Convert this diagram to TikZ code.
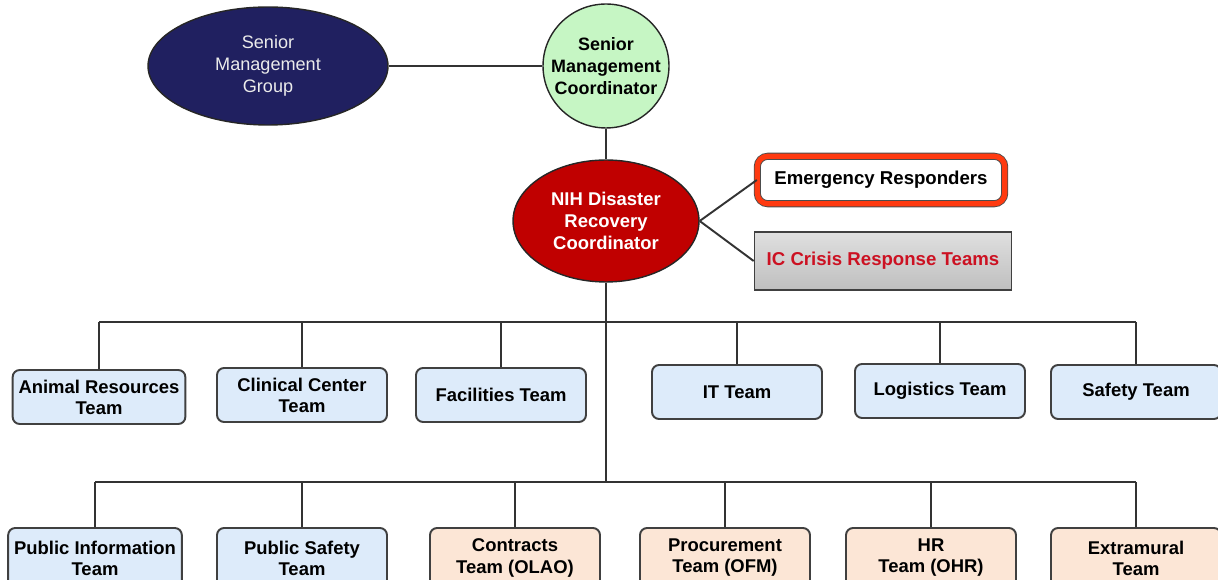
\documentclass[tikz,border=0pt]{standalone}
\usepackage{fontspec}
\setmainfont{Liberation Sans}
\usepackage{xcolor}
\usetikzlibrary{shapes, positioning}

\begin{document}
\begin{tikzpicture}[x=0.02cm, y=-0.02cm,
  line/.style={draw=black!80, line width=1.1pt},
  oval/.style={ellipse, draw=black!85, line width=0.8pt, align=center, inner sep=0pt,
    font=\fontsize{10.3}{12.5}\selectfont},
  team/.style={rectangle, rounded corners=4pt, draw=black!75, line width=1.1pt,
    fill=teamblue, minimum width=3.4cm, minimum height=1.08cm, align=center,
    font=\bfseries\fontsize{10.5}{12}\selectfont},
  office/.style={team, fill=teampeach, minimum height=1.2cm}]

% Define colors for each kind of unit
\definecolor{smgblue}{RGB}{32,32,96}
\definecolor{smcgreen}{RGB}{198,246,196}
\definecolor{nihred}{RGB}{192,0,0}
\definecolor{errim}{RGB}{255,58,16}
\definecolor{icred}{RGB}{204,17,34}
\definecolor{teamblue}{RGB}{221,235,250}
\definecolor{teampeach}{RGB}{252,230,214}

% Page frame
\useasboundingbox (0,0) rectangle (1218,580);

% Senior management
\node[oval, fill=smgblue, text=black!8, minimum width=4.8cm, minimum height=2.36cm]
  (smg) at (268,66) {Senior\\Management\\Group};
\node[oval, fill=smcgreen, font=\bfseries\fontsize{10.2}{12.5}\selectfont,
  inner xsep=-6.5pt, minimum width=2.52cm, minimum height=2.48cm]
  (smc) at (606,66) {Senior\\Management\\Coordinator};

% Disaster recovery coordinator
\node[oval, fill=nihred, text=white, font=\bfseries\fontsize{10.5}{12.5}\selectfont,
  minimum width=3.72cm, minimum height=2.44cm]
  (nih) at (606,221) {NIH Disaster\\Recovery\\Coordinator};

% Responders on the right
\node[rectangle, rounded corners=6pt, fill=white, draw=black!70, line width=0.5pt,
  double=errim, double distance=3pt, minimum width=4.95cm, minimum height=0.95cm,
  font=\bfseries\fontsize{10.6}{12}\selectfont]
  (er) at (881,180) {Emergency Responders};
\node[rectangle, draw=black!75, line width=1pt, top color=gray!25, middle color=gray!4,
  bottom color=gray!50, minimum width=5.14cm, minimum height=1.16cm, text=icred,
  font=\bfseries\fontsize{10.6}{12}\selectfont]
  (ic) at (883,261) {IC Crisis Response Teams};

% First row of teams
\node[team] (ar) at (99,397) {Animal Resources\\Team};
\node[team] (cc) at (302,395) {Clinical Center\\Team};
\node[team] (fac) at (501,395) {Facilities Team};
\node[team] (it) at (737,392) {IT Team};
\node[team] (log) at (940,391) {Logistics Team};
\node[team] (safety) at (1136,392) {Safety Team};

% Second row of teams
\node[team, minimum height=1.2cm] (pi) at (95,558) {Public Information\\Team};
\node[team, minimum height=1.2cm] (ps) at (302,558) {Public Safety\\Team};
\node[office] (con) at (515,558) {Contracts\\Team (OLAO)};
\node[office] (pro) at (725,558) {Procurement\\Team (OFM)};
\node[office] (hr) at (931,558) {HR\\Team (OHR)};
\node[office] (ext) at (1136,558) {Extramural\\Team};

% Connectors
\coordinate (busA) at (606,322);
\coordinate (busB) at (606,482);

\draw[line] (smg) -- (smc);
\draw[line] (smc) -- (nih);
\draw[line] (nih.east) -- (er.west);
\draw[line] (nih.east) -- (ic.west);
\draw[line] (nih.south) -- (busB);

\draw[line] (ar.north |- busA) -- (safety.north |- busA);
\foreach \t in {ar,cc,fac,it,log,safety}
  \draw[line] (\t.north) -- (\t.north |- busA);

\draw[line] (pi.north |- busB) -- (ext.north |- busB);
\foreach \t in {pi,ps,con,pro,hr,ext}
  \draw[line] (\t.north) -- (\t.north |- busB);

\end{tikzpicture}
\end{document}
